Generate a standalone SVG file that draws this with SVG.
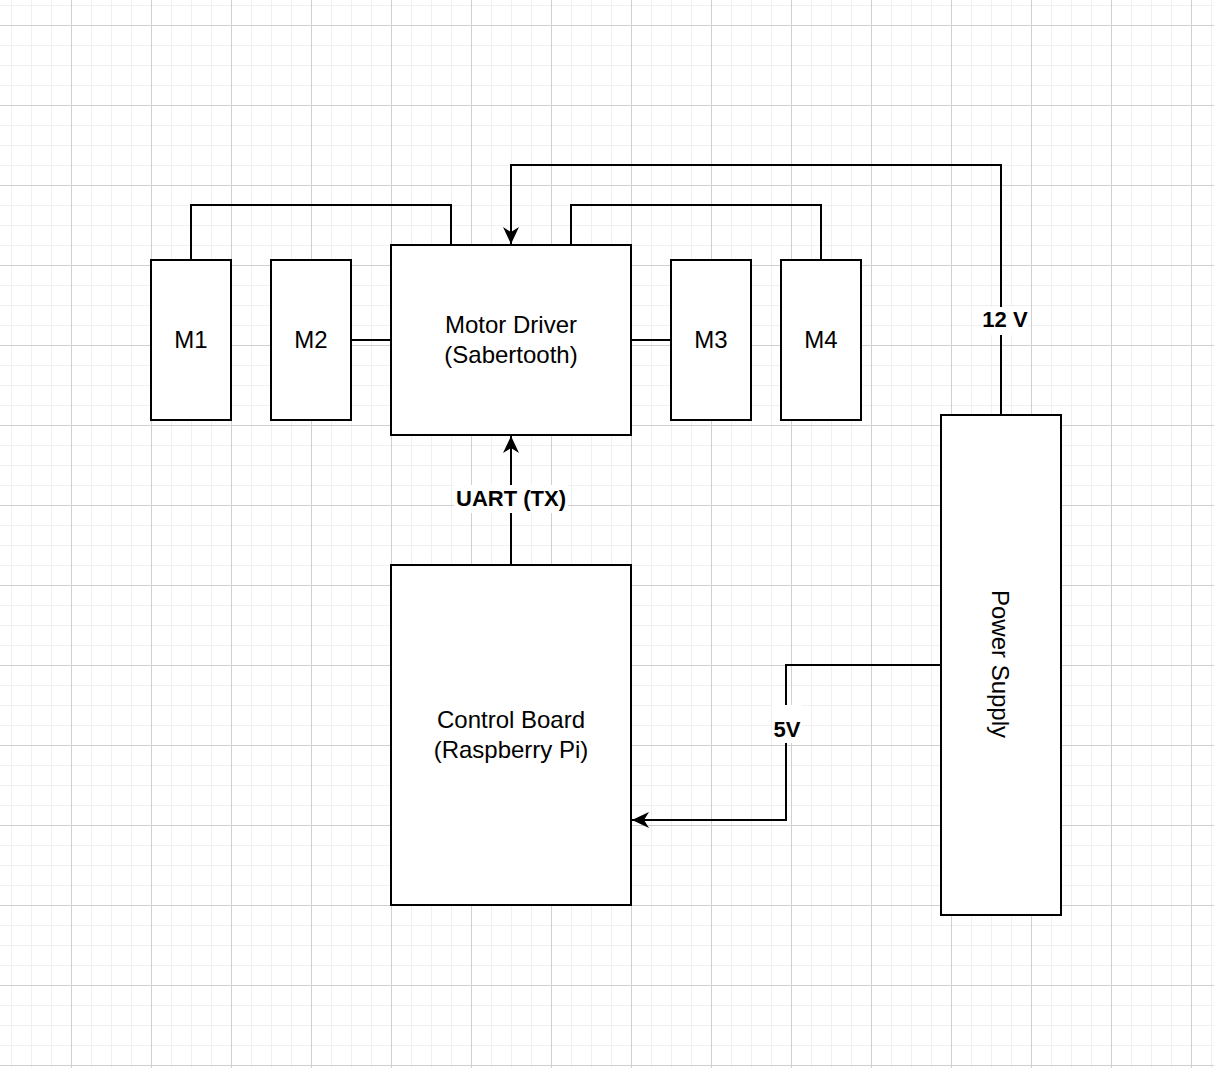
<svg xmlns="http://www.w3.org/2000/svg" width="1214" height="1068" viewBox="0 0 1214 1068">
  <defs>
    <pattern id="grid" x="71" y="25" width="80" height="80" patternUnits="userSpaceOnUse">
      <rect x="0" y="0" width="80" height="80" fill="#ffffff"/>
      <g fill="#f0f0f0">
        <rect x="20" y="0" width="1" height="80"/>
        <rect x="40" y="0" width="1" height="80"/>
        <rect x="60" y="0" width="1" height="80"/>
        <rect x="0" y="20" width="80" height="1"/>
        <rect x="0" y="40" width="80" height="1"/>
        <rect x="0" y="60" width="80" height="1"/>
      </g>
      <g fill="#d0d0d0">
        <rect x="0" y="0" width="1" height="80"/>
        <rect x="0" y="0" width="80" height="1"/>
      </g>
    </pattern>
    <marker id="arrow" markerUnits="userSpaceOnUse" viewBox="-18 -9 19 18" refX="0" refY="0" markerWidth="19" markerHeight="18" orient="auto">
      <path d="M0,0 L-17,-8 L-12,0 L-17,8 Z" fill="#000"/>
    </marker>
    <style>
      .box { fill: #ffffff; stroke: #000000; stroke-width: 2; }
      .wire { fill: none; stroke: #000000; stroke-width: 2; }
      .t { font-family: "Liberation Sans", Arial, Helvetica, sans-serif; font-size: 24px; fill: #000; text-anchor: middle; }
      .lbl { font-family: "Liberation Sans", Arial, Helvetica, sans-serif; font-size: 22px; font-weight: bold; fill: #000; text-anchor: middle; }
      .lblbg { fill: #ffffff; }
    </style>
  </defs>

  <rect x="0" y="0" width="1214" height="1068" fill="url(#grid)"/>

  <g id="connectors">
    <path class="wire" d="M191,260 V205 H451 V245"/>
    <path class="wire" d="M351,340 H391"/>
    <path class="wire" d="M631,340 H671"/>
    <path class="wire" d="M571,245 V205 H821 V260"/>
    <path class="wire" d="M1001,415 V165 H511 V244" marker-end="url(#arrow)"/>
    <path class="wire" d="M511,565 V436" marker-end="url(#arrow)"/>
    <path class="wire" d="M941,665 H786 V820 H632" marker-end="url(#arrow)"/>
    <g id="label-12v">
      <rect class="lblbg" x="982" y="307" width="46" height="28"/>
      <text class="lbl" x="1005" y="327">12 V</text>
    </g>
    <g id="label-uart">
      <rect class="lblbg" x="454" y="485" width="114" height="28"/>
      <text class="lbl" x="511" y="506">UART (TX)</text>
    </g>
    <g id="label-5v">
      <rect class="lblbg" x="772" y="705" width="30" height="38"/>
      <text class="lbl" x="787" y="737">5V</text>
    </g>
  </g>

  <g id="m1">
    <rect class="box" x="151" y="260" width="80" height="160"/>
    <text class="t" x="191" y="348">M1</text>
  </g>
  <g id="m2">
    <rect class="box" x="271" y="260" width="80" height="160"/>
    <text class="t" x="311" y="348">M2</text>
  </g>
  <g id="motor-driver">
    <rect class="box" x="391" y="245" width="240" height="190"/>
    <text class="t" x="511" y="333">Motor Driver</text>
    <text class="t" x="511" y="363">(Sabertooth)</text>
  </g>
  <g id="m3">
    <rect class="box" x="671" y="260" width="80" height="160"/>
    <text class="t" x="711" y="348">M3</text>
  </g>
  <g id="m4">
    <rect class="box" x="781" y="260" width="80" height="160"/>
    <text class="t" x="821" y="348">M4</text>
  </g>
  <g id="control-board">
    <rect class="box" x="391" y="565" width="240" height="340"/>
    <text class="t" x="511" y="728">Control Board</text>
    <text class="t" x="511" y="758">(Raspberry Pi)</text>
  </g>
  <g id="power-supply">
    <rect class="box" x="941" y="415" width="120" height="500"/>
    <text class="t" transform="translate(992,664) rotate(90)" x="0" y="0">Power Supply</text>
  </g>
</svg>
